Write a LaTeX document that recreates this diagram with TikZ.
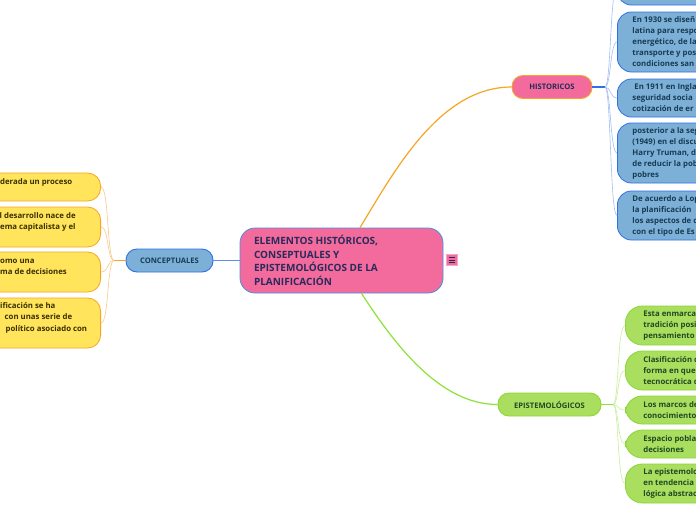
\documentclass[tikz,border=0pt]{standalone}
\usepackage{fontspec}
\setmainfont{Open Sans}
\definecolor{pinkf}{HTML}{F26B9C}
\definecolor{bluef}{HTML}{7DB0D6}
\definecolor{blueb}{HTML}{2F6FE8}
\definecolor{greenf}{HTML}{A9DE5E}
\definecolor{greenb}{HTML}{8CD63A}
\definecolor{yellowf}{HTML}{FFE45C}
\definecolor{orangeb}{HTML}{F5A623}
\definecolor{centerb}{HTML}{4A8FE0}
\definecolor{navy}{HTML}{262B5C}
\definecolor{bluet}{HTML}{173B55}
\definecolor{greent}{HTML}{1F4A24}
\definecolor{yellowt}{HTML}{3A3000}
\definecolor{orthin}{HTML}{F9C88A}
\definecolor{blthin}{HTML}{A2BEF2}
\definecolor{grthin}{HTML}{C8EE9A}
\definecolor{blmain}{HTML}{5E8FE6}
\definecolor{grmain}{HTML}{8DE23A}
\tikzset{
  centerbox/.style={draw=centerb, line width=0.8pt, fill=pinkf, rounded corners=15pt,
    minimum width=203pt, minimum height=65pt, text width=175pt, inner xsep=14pt,
    align=flush left, text=navy, font=\fontsize{10}{13.5}\selectfont\bfseries},
  topic/.style={line width=0.9pt, rounded corners=11pt, minimum height=23pt,
    inner sep=0pt, font=\fontsize{7.6}{10}\selectfont\bfseries},
  bluebox/.style={draw=blueb, line width=0.8pt, fill=bluef, rounded corners=14pt,
    anchor=west, minimum width=200pt, text width=170pt, inner xsep=15pt, inner ysep=0pt,
    align=flush left, text=bluet, font=\fontsize{7.8}{11}\selectfont\bfseries},
  greenbox/.style={draw=greenb, line width=0.8pt, fill=greenf, rounded corners=17pt,
    anchor=west, minimum width=200pt, text width=164pt, inner xsep=18pt, inner ysep=0pt,
    align=flush left, text=greent, font=\fontsize{7.8}{10.7}\selectfont\bfseries},
  yellowbox/.style={draw=orangeb, line width=0.8pt, fill=yellowf, rounded corners=13pt,
    anchor=east, minimum width=200pt},
  ytext/.style={anchor=west, inner sep=0pt, text=yellowt,
    font=\fontsize{7.8}{11}\selectfont\bfseries},
  orline/.style={draw=orthin, line width=0.6pt},
  blline/.style={draw=blthin, line width=0.6pt},
  grline/.style={draw=grthin, line width=0.6pt},
}
\begin{document}
\begin{tikzpicture}[x=1pt,y=-1pt]
\useasboundingbox (0,0) rectangle (696,520);
\clip (0,0) rectangle (696,520);
\fill[white] (0,0) rectangle (696,520);

% central node
\node[centerbox] (c) at (341.5,260.5) {ELEMENTOS HISTÓRICOS,\\CONSEPTUALES Y\\EPISTEMOLÓGICOS DE LA\\PLANIFICACIÓN};
\node[draw=pinkf!60, fill=pinkf, minimum size=11pt, inner sep=0pt, line width=0.6pt] (icon) at (451.5,260) {};
\draw[navy, line width=0.8pt] ([xshift=-3pt,yshift=2.5pt]icon.center) -- ++(6,0)
  ([xshift=-3pt]icon.center) -- ++(6,0)
  ([xshift=-3pt,yshift=-2.5pt]icon.center) -- ++(6,0);

% topics
\node[topic, draw=orangeb, fill=pinkf, text=navy, minimum width=80pt] (hist) at (552,87) {HISTORICOS};
\node[topic, draw=blueb, fill=bluef, text=bluet, minimum width=87pt] (conc) at (169.5,260.5) {CONCEPTUALES};
\node[topic, draw=greenb, fill=greenf, text=greent, minimum width=103pt] (epi) at (549.5,404.5) {EPISTEMOLÓGICOS};

% main connectors
\draw[orangeb, line width=1.2pt] ([xshift=18.5pt]c.north) .. controls (395,170) and (440,87) .. (hist.west);
\draw[grmain, line width=1.2pt] ([xshift=20pt]c.south) .. controls (395,345) and (440,404.5) .. (epi.west);
\draw[blmain, line width=1.2pt] (c.west) -- (conc.east);

% historicos children
\node[bluebox, minimum height=35pt] (h0) at (617,-12.5) {};
\node[bluebox, minimum height=60pt] (h1) at (617,42) {En 1930 se diseñ\\latina para respo\\energético, de la\\transporte y pos\\condiciones san};
\node[bluebox, minimum height=38pt] (h2) at (617,98) {\hspace*{2pt}En 1911 en Ingla\\seguridad socia\\cotización de er};
\node[bluebox, minimum height=60pt] (h3) at (617,153) {posterior a la seg\\(1949) en el discu\\Harry Truman, d\\de reducir la pob\\pobres};
\node[bluebox, minimum height=49pt] (h4) at (617,215.5) {De acuerdo a Lop\\la planificación\\los aspectos de c\\con el tipo de Es};
\coordinate (hj) at (605,87);
\draw[blueb, line width=1.4pt] (hist.east) -- (hj);
\foreach \n in {h0,h1,h2,h3,h4}{
  \draw[blline] (hj) .. controls (611,87) and (610,87 |- \n.west) .. (\n.west);
}

% epistemologicos children
\node[greenbox, minimum height=39pt] (g1) at (625,325.5) {Esta enmarca\\tradición posi\\pensamiento};
\node[greenbox, minimum height=39pt] (g2) at (625,370.5) {Clasificación c\\forma en que\\tecnocrática c};
\node[greenbox, minimum height=28pt] (g3) at (625,410) {Los marcos de\\conocimiento};
\node[greenbox, minimum height=28pt] (g4) at (625,444) {Espacio pobla\\decisiones};
\node[greenbox, minimum height=39pt] (g5) at (625,483.5) {La epistemolo\\en tendencia\\lógica abstrac};
\coordinate (gj) at (613,404.5);
\draw[grmain, line width=1.4pt] (epi.east) -- (gj);
\foreach \n in {g1,g2,g3,g4,g5}{
  \draw[grline] (gj) .. controls (619,404.5) and (617,404.5 |- \n.west) .. (\n.west);
}

% conceptuales children
\node[yellowbox, minimum height=28pt] (y1) at (101,187) {};
\node[yellowbox, minimum height=40pt] (y2) at (101,227) {};
\node[yellowbox, minimum height=40pt] (y3) at (101,272) {};
\node[yellowbox, minimum height=50pt] (y4) at (101,323) {};
\node[ytext] (t1) at (0,182) {derada un proceso};
\node[ytext] (t2a) at (-0.5,216) {l desarrollo nace de};
\node[ytext] (t2b) at (0,227) {ema capitalista y el};
\node[ytext] (t3a) at (0,261) {omo una};
\node[ytext] (t3b) at (0,272) {ma de decisiones};
\node[ytext] (t4a) at (0,306) {ificación se ha};
\node[ytext] (t4b) at (4.5,317) {con unas serie de};
\node[ytext] (t4c) at (5.5,329) {político asociado con};
\coordinate (cj) at (114,260.5);
\draw[orangeb, line width=1.2pt] (conc.west) -- (cj);
\foreach \n in {y1,y2,y3,y4}{
  \draw[orline] (cj) .. controls (107,260.5) and (109,260.5 |- \n.east) .. (\n.east);
}
\end{tikzpicture}
\end{document}
